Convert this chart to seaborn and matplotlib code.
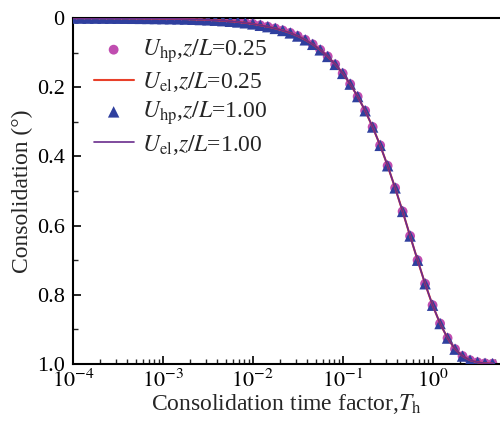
import numpy as np
import pandas as pd
import matplotlib
matplotlib.use("Agg")
import matplotlib.pyplot as plt
import seaborn as sns
from matplotlib.ticker import LogLocator, NullFormatter, FixedLocator, MultipleLocator

# ---- data ----
log_T = [-4 + k / 12 for k in range(57)]
T_values = [10 ** v for v in log_T]
U_values = [
    0.0002, 0.0002, 0.0003, 0.0003, 0.0004, 0.0005,
    0.0006, 0.0007, 0.0008, 0.0010, 0.0012, 0.0015,
    0.0018, 0.0021, 0.0025, 0.0030, 0.0036, 0.0044,
    0.0053, 0.0064, 0.0077, 0.0094, 0.0114, 0.0138,
    0.017, 0.021, 0.025, 0.030, 0.036, 0.043, 0.052, 0.063, 0.076, 0.092, 0.111, 0.134,
    0.160, 0.191, 0.227, 0.268, 0.315, 0.368, 0.427, 0.491, 0.559, 0.630, 0.700, 0.768,
    0.830, 0.883, 0.925, 0.957, 0.977, 0.989, 0.995, 0.998, 0.999,
]
u_hp_025 = U_values
u_el_025 = U_values
u_hp_100 = U_values
u_el_100 = U_values

labels = [r"$U_{\rm hp}$,$z/L$=0.25", r"$U_{\rm el}$,$z/L$=0.25",
          r"$U_{\rm hp}$,$z/L$=1.00", r"$U_{\rm el}$,$z/L$=1.00"]
y_ticks = [0, 0.2, 0.4, 0.6, 0.8, 1.0]
y_ticklabels = ["0", "0.2", "0.4", "0.6", "0.8", "1.0"]
x_ticks = [1e-4, 1e-3, 1e-2, 1e-1, 1e0]
x_ticklabels = [r"$10^{-4}$", r"$10^{-3}$", r"$10^{-2}$", r"$10^{-1}$", r"$10^{0}$"]

sns.set_style("ticks")
plt.rcParams["font.family"] = "serif"
plt.rcParams["font.serif"] = ["Liberation Serif", "Times New Roman", "DejaVu Serif"]
plt.rcParams["mathtext.fontset"] = "stix"
plt.rcParams["xtick.direction"] = "in"
plt.rcParams["ytick.direction"] = "in"

df = pd.DataFrame({"T": T_values, "hp025": u_hp_025, "el025": u_el_025,
                   "hp100": u_hp_100, "el100": u_el_100})

fig = plt.figure(figsize=(5.0, 4.24), dpi=100)
ax = fig.add_axes([0.146, 0.1415, 0.854, 0.816])

sns.scatterplot(data=df, x="T", y="hp025", ax=ax, marker="o", s=50, color="#C04DB0",
                edgecolor="none", label=labels[0], zorder=2)
sns.lineplot(data=df, x="T", y="el025", ax=ax, color="#E8402A", lw=1.5,
             label=labels[1], zorder=4)
sns.scatterplot(data=df, x="T", y="hp100", ax=ax, marker="^", s=68, color="#2F3F9E",
                edgecolor="none", label=labels[2], zorder=3)
sns.lineplot(data=df, x="T", y="el100", ax=ax, color="#6A2C8C", lw=1.2,
             label=labels[3], zorder=5)

ax.set_xscale("log")
ax.set_xlim(1e-4, 10 ** 0.75)
ax.set_ylim(1.0, 0.0)

ax.xaxis.set_major_locator(FixedLocator(x_ticks))
ax.set_xticklabels(x_ticklabels)
ax.xaxis.set_minor_locator(LogLocator(base=10, subs=np.arange(2, 10), numticks=20))
ax.xaxis.set_minor_formatter(NullFormatter())
ax.set_yticks(y_ticks)
ax.set_yticklabels(y_ticklabels)
ax.yaxis.set_minor_locator(MultipleLocator(0.1))

ax.tick_params(which="major", length=6, width=1.2, labelsize=16, colors="black")
ax.tick_params(which="minor", length=3.5, width=1.0)
ax.tick_params(axis="x", pad=4)
ax.tick_params(axis="y", pad=6)

for side in ["left", "bottom", "top"]:
    ax.spines[side].set_linewidth(1.5)
    ax.spines[side].set_color("black")
ax.spines["right"].set_visible(False)

ax.set_xlabel(r"Consolidation time factor,$T_{\rm h}$", fontsize=17, labelpad=0)
ax.set_ylabel("Consolidation (°)", fontsize=17, labelpad=3)

leg = ax.legend(loc="upper left", bbox_to_anchor=(0.015, 0.985), frameon=False,
                fontsize=17, handlelength=1.7, handletextpad=0.35,
                labelspacing=0.22, borderaxespad=0.2)

fig.savefig("out.png", dpi=100)
